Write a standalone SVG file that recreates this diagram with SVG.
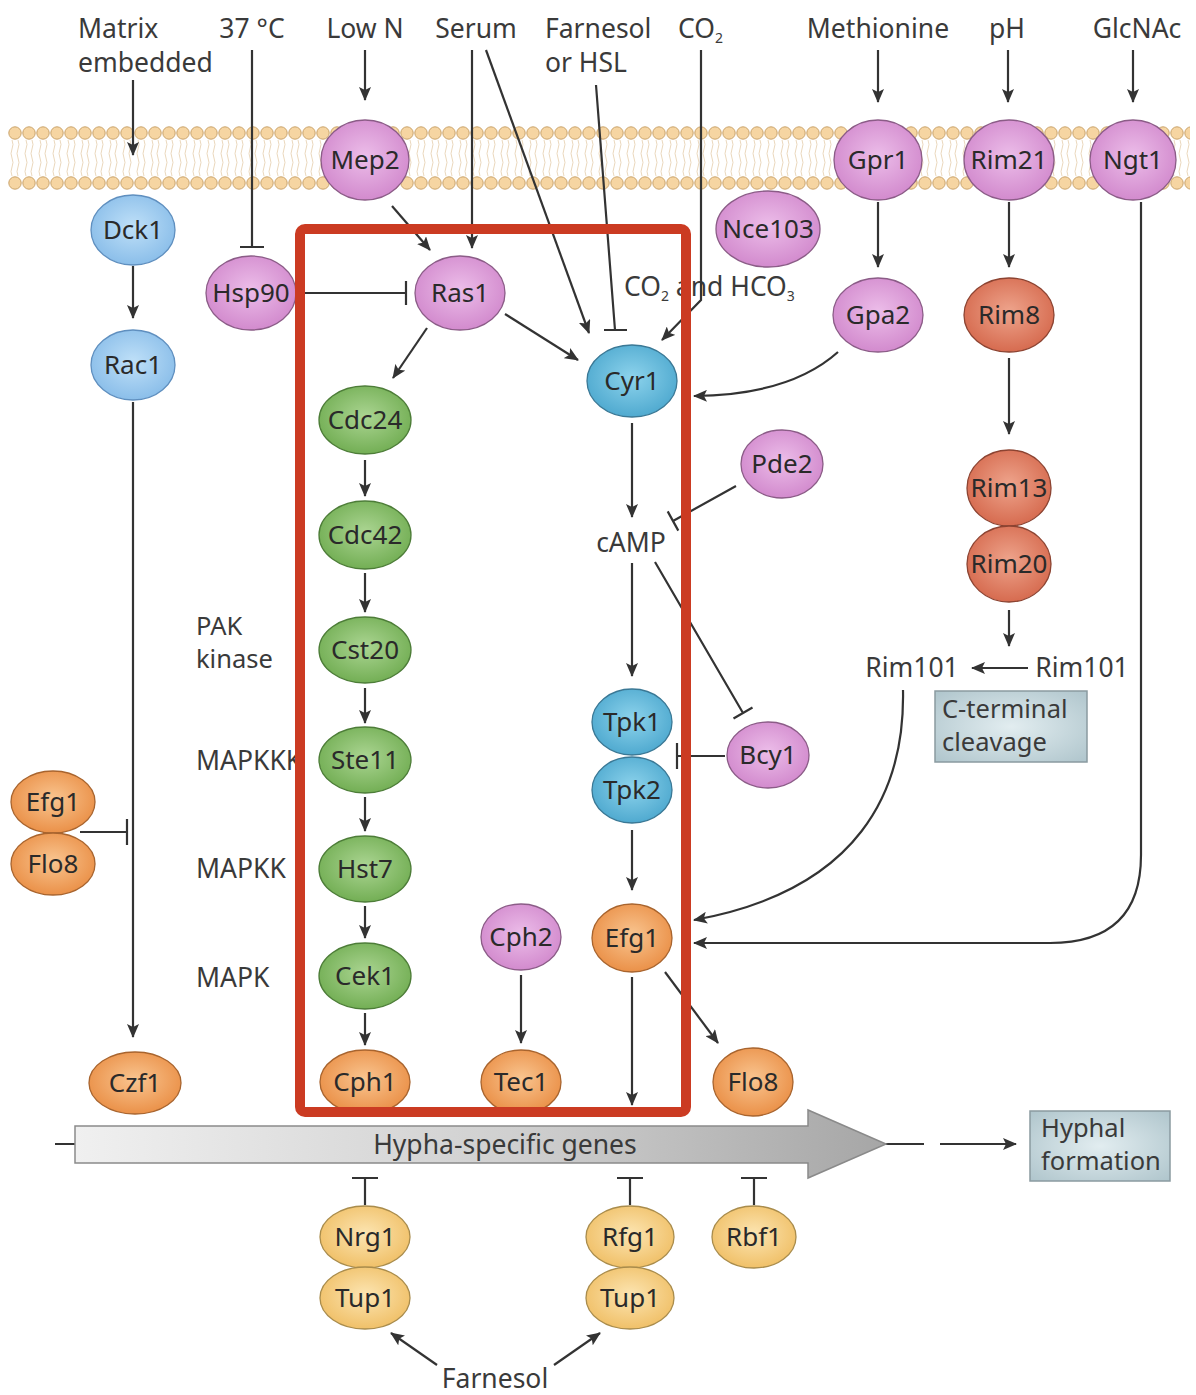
<svg xmlns="http://www.w3.org/2000/svg" width="1196" height="1395" viewBox="0 0 1196 1395">
<defs>
<style>
text{font-family:"Noto Sans","DejaVu Sans",sans-serif;}
.lbl{font-size:26.5px;fill:#3a3a3a;}
.lbl2{font-size:25.5px;fill:#3a3a3a;}
.nt{font-size:26px;fill:#2a2a2a;text-anchor:middle;}
.c{stroke:#333;stroke-width:2.2;fill:none;}
.a{stroke:#333;stroke-width:2.2;fill:none;marker-end:url(#arr);}
.pink{fill:url(#gPink);stroke:#8b5c87;stroke-width:1.3;}
.blue{fill:url(#gBlue);stroke:#3a7895;stroke-width:1.3;}
.lblue{fill:url(#gLBlue);stroke:#5f8fbf;stroke-width:1.3;}
.green{fill:url(#gGreen);stroke:#4d7d38;stroke-width:1.3;}
.orange{fill:url(#gOrange);stroke:#a8642e;stroke-width:1.3;}
.rim{fill:url(#gRim);stroke:#8c4331;stroke-width:1.3;}
.yellow{fill:url(#gYellow);stroke:#a98c4c;stroke-width:1.3;}
.box{fill:url(#gBox);stroke:#8a9aa0;stroke-width:1.5;}
</style>
<radialGradient id="gPink" cx="50%" cy="45%" r="60%"><stop offset="0" stop-color="#ecbde9"/><stop offset="1" stop-color="#d086cb"/></radialGradient>
<radialGradient id="gBlue" cx="50%" cy="45%" r="60%"><stop offset="0" stop-color="#8dd3ec"/><stop offset="1" stop-color="#4aa6cd"/></radialGradient>
<radialGradient id="gLBlue" cx="50%" cy="45%" r="60%"><stop offset="0" stop-color="#bfe0f8"/><stop offset="1" stop-color="#86bbe8"/></radialGradient>
<radialGradient id="gGreen" cx="50%" cy="45%" r="60%"><stop offset="0" stop-color="#abd592"/><stop offset="1" stop-color="#6eab4f"/></radialGradient>
<radialGradient id="gOrange" cx="50%" cy="45%" r="60%"><stop offset="0" stop-color="#f9c590"/><stop offset="1" stop-color="#e98c42"/></radialGradient>
<radialGradient id="gRim" cx="50%" cy="45%" r="60%"><stop offset="0" stop-color="#eea48c"/><stop offset="1" stop-color="#d4664a"/></radialGradient>
<radialGradient id="gYellow" cx="50%" cy="45%" r="60%"><stop offset="0" stop-color="#fce5b2"/><stop offset="1" stop-color="#efbd62"/></radialGradient>
<radialGradient id="gBox" cx="50%" cy="50%" r="70%"><stop offset="0" stop-color="#e2edf0"/><stop offset="1" stop-color="#afc5cc"/></radialGradient>
<linearGradient id="gArrow" x1="0" y1="0" x2="1" y2="0"><stop offset="0" stop-color="#f0f0f0"/><stop offset="0.55" stop-color="#cfcfcf"/><stop offset="1" stop-color="#a6a6a6"/></linearGradient>
<pattern id="lipid" x="8" y="126" width="14" height="64" patternUnits="userSpaceOnUse">
<path d="M4,14 q2,4.5 0,9 q-2,4.5 0,9 q2,4.5 0,9 q-2,4.5 0,9 M10,14 q2,4.5 0,9 q-2,4.5 0,9 q2,4.5 0,9 q-2,4.5 0,9" stroke="#e8d3b4" stroke-width="0.9" fill="none"/>
<circle cx="7" cy="7" r="6.2" fill="#f6d5a2" stroke="#c9a36b" stroke-width="1"/>
<circle cx="7" cy="57" r="6.2" fill="#f6d5a2" stroke="#c9a36b" stroke-width="1"/>
</pattern>
<marker id="arr" viewBox="0 0 14 12" refX="13" refY="6" markerWidth="14" markerHeight="12" markerUnits="userSpaceOnUse" orient="auto"><path d="M0,0 L14,6 L0,12 L3,6 Z" fill="#333"/></marker>
</defs>
<rect width="1196" height="1395" fill="#ffffff"/>
<g id="membrane"><rect x="8" y="126" width="1182" height="64" fill="url(#lipid)"/></g>

<g id="labels">
<text class="lbl"><tspan x="78" y="38">Matrix</tspan><tspan x="78" dy="34">embedded</tspan></text>
<text class="lbl" x="252" y="38" text-anchor="middle">37 °C</text>
<text class="lbl" x="365" y="38" text-anchor="middle">Low N</text>
<text class="lbl" x="476" y="38" text-anchor="middle">Serum</text>
<text class="lbl"><tspan x="545" y="38">Farnesol</tspan><tspan x="545" dy="34">or HSL</tspan></text>
<text class="lbl" x="678" y="38">CO<tspan font-size="14" dy="5">2</tspan></text>
<text class="lbl" x="878" y="38" text-anchor="middle">Methionine</text>
<text class="lbl" x="1007" y="38" text-anchor="middle">pH</text>
<text class="lbl" x="1137" y="38" text-anchor="middle">GlcNAc</text>
<text class="lbl" x="624" y="296">CO<tspan font-size="14" dy="5">2</tspan><tspan dy="-5"> and HCO</tspan><tspan font-size="14" dy="5">3</tspan></text>
<text class="lbl" x="631" y="552" text-anchor="middle">cAMP</text>
<text class="lbl2"><tspan x="196" y="635">PAK</tspan><tspan x="196" dy="33">kinase</tspan></text>
<text class="lbl" x="196" y="770">MAPKKK</text>
<text class="lbl" x="196" y="878">MAPKK</text>
<text class="lbl" x="196" y="987">MAPK</text>
<text class="lbl" x="912" y="677" text-anchor="middle">Rim101</text>
<text class="lbl" x="1082" y="677" text-anchor="middle">Rim101</text>
<text class="lbl" x="495" y="1388" text-anchor="middle">Farnesol</text>
</g>

<g id="connectors">
<path class="a" d="M133,80 V155"/>
<path class="c" d="M252,50 V247 M240,247 H264"/>
<path class="a" d="M365,50 V100"/>
<path class="a" d="M472,50 V248"/>
<path class="a" d="M486,50 L589,333"/>
<path class="c" d="M596,85 L615,330 M604,330 H627"/>
<path class="a" d="M701,50 V300 L662,340"/>
<path class="a" d="M878,50 V102"/>
<path class="a" d="M1008,50 V102"/>
<path class="a" d="M1133,50 V102"/>
<path class="a" d="M392,206 L430,250"/>
<path class="c" d="M298,293 H406 M406,281 V305"/>
<path class="a" d="M505,314 L578,360"/>
<path class="a" d="M427,328 L393,378"/>
<path class="a" d="M878,202 V267"/>
<path class="a" d="M1009,202 V267"/>
<path class="a" d="M133,266 V318"/>
<path class="a" d="M133,402 V1037"/>
<path class="c" d="M80,832 H127 M127,819 V845"/>
<path class="a" d="M838,352 Q790,395 694,396"/>
<path class="a" d="M632,423 V517"/>
<path class="c" d="M736,486 L673,521 M667.7,511.4 L678.3,530.6"/>
<path class="c" d="M655,562 L743,713 M733.5,718.5 L752.5,707.5"/>
<path class="a" d="M632,563 V676"/>
<path class="c" d="M725,756 H677 M677,743 V769"/>
<path class="a" d="M632,830 V890"/>
<path class="a" d="M1009,358 V434"/>
<path class="a" d="M1009,610 V646"/>
<path class="a" d="M1028,668 H972"/>
<path class="a" d="M903,690 C905,790 860,890 694,920"/>
<path class="a" d="M1141,202 V855 Q1141,943 1050,943 H694"/>
<path class="a" d="M365,460 V496"/>
<path class="a" d="M365,573 V612"/>
<path class="a" d="M365,688 V723"/>
<path class="a" d="M365,797 V831"/>
<path class="a" d="M365,906 V938"/>
<path class="a" d="M365,1013 V1045"/>
<path class="a" d="M521,975 V1043"/>
<path class="a" d="M632,977 V1105"/>
<path class="a" d="M665,972 L718,1043"/>
<path class="c" d="M365,1205 V1178 M352,1178 H378"/>
<path class="c" d="M630,1205 V1178 M617,1178 H643"/>
<path class="c" d="M754,1205 V1178 M741,1178 H767"/>
<path class="a" d="M437,1365 L391,1333"/>
<path class="a" d="M554,1365 L600,1333"/>
<path class="c" d="M55,1144 H75 M886,1144 H924" stroke-width="1.5"/>
<path class="a" d="M940,1144 H1016"/>
</g>

<g id="hypha-genes">
<polygon points="75,1126 808,1126 808,1110 886,1144 808,1178 808,1163 75,1163" fill="url(#gArrow)" stroke="#8a8a8a" stroke-width="1.5"/>
<text class="lbl" x="505" y="1154" text-anchor="middle" fill="#2a2a2a">Hypha-specific genes</text>
</g>
<g id="hyphal-formation">
<rect class="box" x="1030" y="1111" width="140" height="70"/>
<text class="lbl2"><tspan x="1041" y="1137">Hyphal</tspan><tspan x="1041" dy="33">formation</tspan></text>
</g>
<g id="c-terminal-cleavage">
<rect class="box" x="935" y="691" width="152" height="71"/>
<text class="lbl2"><tspan x="942" y="718">C-terminal</tspan><tspan x="942" dy="33">cleavage</tspan></text>
</g>

<g id="mep2"><ellipse class="pink" cx="365" cy="160" rx="44" ry="40"/><text class="nt" x="365" y="169">Mep2</text></g>
<g id="gpr1"><ellipse class="pink" cx="878" cy="160" rx="44" ry="40"/><text class="nt" x="878" y="169">Gpr1</text></g>
<g id="rim21"><ellipse class="pink" cx="1009" cy="160" rx="45" ry="40"/><text class="nt" x="1009" y="169">Rim21</text></g>
<g id="ngt1"><ellipse class="pink" cx="1133" cy="160" rx="43" ry="40"/><text class="nt" x="1133" y="169">Ngt1</text></g>
<g id="dck1"><ellipse class="lblue" cx="133" cy="230" rx="42" ry="35"/><text class="nt" x="133" y="239">Dck1</text></g>
<g id="rac1"><ellipse class="lblue" cx="133" cy="365" rx="42" ry="35"/><text class="nt" x="133" y="374">Rac1</text></g>
<g id="hsp90"><ellipse class="pink" cx="251" cy="293" rx="45" ry="37"/><text class="nt" x="251" y="302">Hsp90</text></g>
<g id="ras1"><ellipse class="pink" cx="460" cy="293" rx="45" ry="37"/><text class="nt" x="460" y="302">Ras1</text></g>
<g id="nce103"><ellipse class="pink" cx="768" cy="229" rx="52" ry="38"/><text class="nt" x="768" y="238">Nce103</text></g>
<g id="gpa2"><ellipse class="pink" cx="878" cy="315" rx="45" ry="37"/><text class="nt" x="878" y="324">Gpa2</text></g>
<g id="rim8"><ellipse class="rim" cx="1009" cy="315" rx="45" ry="37"/><text class="nt" x="1009" y="324">Rim8</text></g>
<g id="cyr1"><ellipse class="blue" cx="632" cy="381" rx="45" ry="36"/><text class="nt" x="632" y="390">Cyr1</text></g>
<g id="cdc24"><ellipse class="green" cx="365" cy="420" rx="46" ry="34"/><text class="nt" x="365" y="429">Cdc24</text></g>
<g id="cdc42"><ellipse class="green" cx="365" cy="535" rx="46" ry="34"/><text class="nt" x="365" y="544">Cdc42</text></g>
<g id="cst20"><ellipse class="green" cx="365" cy="650" rx="46" ry="33"/><text class="nt" x="365" y="659">Cst20</text></g>
<g id="ste11"><ellipse class="green" cx="365" cy="760" rx="46" ry="33"/><text class="nt" x="365" y="769">Ste11</text></g>
<g id="hst7"><ellipse class="green" cx="365" cy="869" rx="46" ry="33"/><text class="nt" x="365" y="878">Hst7</text></g>
<g id="cek1"><ellipse class="green" cx="365" cy="976" rx="46" ry="33"/><text class="nt" x="365" y="985">Cek1</text></g>
<g id="pde2"><ellipse class="pink" cx="782" cy="464" rx="41" ry="34"/><text class="nt" x="782" y="473">Pde2</text></g>
<g id="rim13"><ellipse class="rim" cx="1009" cy="488" rx="42" ry="38"/><text class="nt" x="1009" y="497">Rim13</text></g>
<g id="rim20"><ellipse class="rim" cx="1009" cy="564" rx="42" ry="38"/><text class="nt" x="1009" y="573">Rim20</text></g>
<g id="tpk1"><ellipse class="blue" cx="632" cy="722" rx="40" ry="33"/><text class="nt" x="632" y="731">Tpk1</text></g>
<g id="tpk2"><ellipse class="blue" cx="632" cy="790" rx="40" ry="33"/><text class="nt" x="632" y="799">Tpk2</text></g>
<g id="bcy1"><ellipse class="pink" cx="768" cy="755" rx="41" ry="33"/><text class="nt" x="768" y="764">Bcy1</text></g>
<g id="efg1-left"><ellipse class="orange" cx="53" cy="802" rx="42" ry="31"/><text class="nt" x="53" y="811">Efg1</text></g>
<g id="flo8-left"><ellipse class="orange" cx="53" cy="864" rx="42" ry="31"/><text class="nt" x="53" y="873">Flo8</text></g>
<g id="efg1"><ellipse class="orange" cx="632" cy="938" rx="40" ry="34"/><text class="nt" x="632" y="947">Efg1</text></g>
<g id="cph2"><ellipse class="pink" cx="521" cy="937" rx="40" ry="33"/><text class="nt" x="521" y="946">Cph2</text></g>
<g id="czf1"><ellipse class="orange" cx="135" cy="1083" rx="46" ry="31"/><text class="nt" x="135" y="1092">Czf1</text></g>
<g id="cph1"><ellipse class="orange" cx="365" cy="1082" rx="45" ry="32"/><text class="nt" x="365" y="1091">Cph1</text></g>
<g id="tec1"><ellipse class="orange" cx="521" cy="1082" rx="40" ry="32"/><text class="nt" x="521" y="1091">Tec1</text></g>
<g id="flo8"><ellipse class="orange" cx="753" cy="1082" rx="40" ry="34"/><text class="nt" x="753" y="1091">Flo8</text></g>
<g id="nrg1"><ellipse class="yellow" cx="365" cy="1237" rx="45" ry="31"/><text class="nt" x="365" y="1246">Nrg1</text></g>
<g id="tup1-a"><ellipse class="yellow" cx="365" cy="1298" rx="45" ry="31"/><text class="nt" x="365" y="1307">Tup1</text></g>
<g id="rfg1"><ellipse class="yellow" cx="630" cy="1237" rx="44" ry="31"/><text class="nt" x="630" y="1246">Rfg1</text></g>
<g id="tup1-b"><ellipse class="yellow" cx="630" cy="1298" rx="44" ry="31"/><text class="nt" x="630" y="1307">Tup1</text></g>
<g id="rbf1"><ellipse class="yellow" cx="754" cy="1237" rx="42" ry="31"/><text class="nt" x="754" y="1246">Rbf1</text></g>

<g id="ras-camp-box"><rect x="300" y="229" width="386" height="883" rx="5" fill="none" stroke="#cb3b22" stroke-width="10"/></g>
</svg>
